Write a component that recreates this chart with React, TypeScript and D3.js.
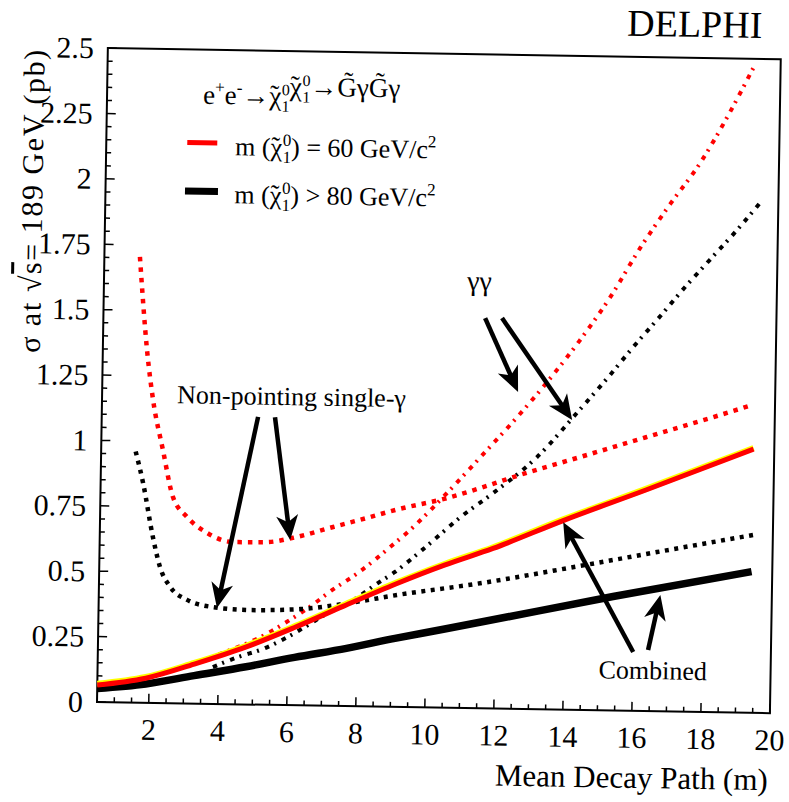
import React from 'react';
import * as d3 from 'd3';

// sigma (pb) vs mean decay path (m)
const combined60: [number, number][] = [
  [0.5, 0.065], [1.9, 0.094], [3.3, 0.151], [4.8, 0.22], [6.2, 0.298], [7.6, 0.382],
  [9.1, 0.47], [10.5, 0.545], [11.9, 0.612], [13.9, 0.722], [16.3, 0.845], [19.4, 1.008],
];
const combined80: [number, number][] = [
  [0.5, 0.052], [1.9, 0.072], [3.3, 0.107], [4.8, 0.144], [6.2, 0.183], [7.7, 0.221],
  [9.1, 0.262], [10.5, 0.3], [11.7, 0.333], [15.4, 0.436], [19.4, 0.54],
];
const single60: [number, number][] = [
  [1.53, 1.704], [1.78, 1.349], [1.98, 1.158], [2.29, 0.967], [2.6, 0.789], [3.02, 0.713],
  [3.61, 0.653], [4.36, 0.62], [5.35, 0.622], [6.1, 0.64], [7.26, 0.684], [8.24, 0.721],
  [9.11, 0.755], [10.55, 0.802], [11.5, 0.842], [12.45, 0.886], [14.38, 0.967], [16.31, 1.048],
  [18.22, 1.128], [19.34, 1.177],
];
const single80: [number, number][] = [
  [1.5, 0.96], [1.73, 0.84], [2.04, 0.634], [2.26, 0.52], [2.57, 0.444], [3.06, 0.396],
  [3.82, 0.37], [4.89, 0.361], [6.34, 0.368], [7.79, 0.395], [9.14, 0.428],
  [11.54, 0.478], [14.44, 0.551], [17.32, 0.626], [19.43, 0.68],
];
const gg60: [number, number][] = [
  [4.0, 0.19], [5.42, 0.274], [5.91, 0.314], [6.77, 0.392], [7.14, 0.431], [8.0, 0.51],
  [8.92, 0.611], [9.58, 0.689], [10.54, 0.821], [11.68, 0.988], [12.5, 1.11],
  [13.5, 1.27], [14.3, 1.41], [15.18, 1.581], [16.02, 1.77], [16.87, 1.94],
  [17.72, 2.099], [18.48, 2.276], [19.21, 2.465],
];
const gg80: [number, number][] = [
  [3.84, 0.141], [4.57, 0.181], [5.26, 0.212], [6.0, 0.261], [6.58, 0.308], [7.15, 0.355],
  [7.73, 0.394], [8.59, 0.473], [9.07, 0.516], [9.85, 0.602], [11.02, 0.738], [11.88, 0.824],
  [13.13, 0.964], [14.36, 1.15], [15.13, 1.27], [15.86, 1.39], [16.63, 1.51],
  [17.35, 1.625], [18.05, 1.73], [18.82, 1.845], [19.47, 1.95],
];

// annotation arrows: [from, to] in data units
const arrows: [[number, number], [number, number]][] = [
  [[5.03, 1.1], [3.93, 0.367]],
  [[5.52, 1.1], [6.02, 0.631]],
  [[11.56, 1.492], [12.55, 1.212]],
  [[12.05, 1.493], [14.13, 1.108]],
  [[16.01, 0.225], [13.92, 0.717]],
  [[16.44, 0.234], [16.77, 0.445]],
];

const xTicks = [2, 4, 6, 8, 10, 12, 14, 16, 18, 20];
const yTicks = [0, 0.25, 0.5, 0.75, 1, 1.25, 1.5, 1.75, 2, 2.25, 2.5];
const yTickLabels = ['0', '0.25', '0.5', '0.75', '1', '1.25', '1.5', '1.75', '2', '2.25', '2.5'];
const legendMass = ['= 60', '> 80'];

const FONT = "'Liberation Serif', 'Times New Roman', serif";
const L = 97, R = 770, T = 48, B = 702;
const TILT = 0.95; // the scan is turned by about one degree

const x = d3.scaleLinear().domain([0.5, 20]).range([L, R]);
const y = d3.scaleLinear().domain([0, 2.5]).range([B, T]);

const line = d3.line<[number, number]>()
  .x(d => x(d[0]))
  .y(d => y(d[1]))
  .curve(d3.curveMonotoneX);

function Arrow({ from, to }: { from: [number, number]; to: [number, number] }) {
  const x0 = x(from[0]), y0 = y(from[1]);
  const x1 = x(to[0]), y1 = y(to[1]);
  const len = Math.hypot(x1 - x0, y1 - y0);
  const ux = (x1 - x0) / len, uy = (y1 - y0) / len;
  const px = -uy, py = ux;
  const hl = 25, hw = 11;
  const bx = x1 - ux * hl, by = y1 - uy * hl;
  const pts = [
    [x1, y1],
    [bx + px * hw, by + py * hw],
    [bx + ux * 7, by + uy * 7],
    [bx - px * hw, by - py * hw],
  ].map(p => p.join(',')).join(' ');
  return (
    <g>
      <line x1={x0} y1={y0} x2={bx + ux * 9} y2={by + uy * 9} stroke="#000" strokeWidth={4.5} />
      <polygon points={pts} fill="#000" />
    </g>
  );
}

// chi with a tilde and stacked sub 1 / sup 0, as tspans
function chiTilde(f: number, s: number, key: string) {
  const cw = 0.5 * f, tw = 0.333 * f;
  return [
    <tspan key={key + 'c'}>{'\u03C7'}</tspan>,
    <tspan key={key + 't'} dx={-(cw / 2 + tw / 2)} dy={-1}>{'\u02DC'}</tspan>,
    <tspan key={key + 's'} dx={cw / 2 - tw / 2 + 0.5} dy={1 + s * 0.42} fontSize={s}>1</tspan>,
    <tspan key={key + 'p'} dx={-s * 0.5} dy={-s * 1.02} fontSize={s}>0</tspan>,
  ];
}

export default function App() {
  const xMinor = d3.range(1, 20.01, 0.5);
  const yMinor = d3.range(0, 2.501, 0.05);
  return (
    <svg width={789} height={802} style={{ position: 'absolute', left: 0, top: 0, background: '#fff' }}
      fontFamily={FONT}>
      <g transform={`rotate(${TILT}, ${L}, ${B})`}>
        {/* frame */}
        <rect x={L} y={T} width={R - L} height={B - T} fill="none" stroke="#000" strokeWidth={2} />
        {yMinor.map((v, i) => {
          const major = i % 5 === 0;
          return <line key={'ym' + i} x1={L} x2={L + (major ? 9 : 5)} y1={y(v)} y2={y(v)} stroke="#000" strokeWidth={1.5} />;
        })}
        {xMinor.map((v, i) => {
          const major = Math.abs(v % 2) < 1e-6;
          return <line key={'xm' + i} x1={x(v)} x2={x(v)} y1={B} y2={B - (major ? 9 : 5)} stroke="#000" strokeWidth={1.5} />;
        })}
        {yTicks.map((v, i) => (
          <text key={'yl' + i} x={83} y={y(v)} dy="0.34em" textAnchor="end" fontSize={30}>{yTickLabels[i]}</text>
        ))}
        {xTicks.map(v => (
          <text key={'xl' + v} x={x(v)} y={739} textAnchor="middle" fontSize={30}>{v}</text>
        ))}

        <text x={769} y={779} textAnchor="end" fontSize={31}>Mean Decay Path (m)</text>
        <text transform="translate(34,202.5) rotate(-90)" textAnchor="middle" fontSize={30}
          textLength={303} lengthAdjust="spacing">
          {'\u03C3 at \u221A'}<tspan style={{ textDecoration: 'overline' }}>s</tspan>{'= 189 GeV (pb)'}
        </text>
        <text x={751} y={27} textAnchor="end" fontSize={38}>DELPHI</text>

        {/* curves */}
        <path d={line(gg60) || ''} fill="none" stroke="#ff0000" strokeWidth={4} strokeDasharray="4.5 5.5 2 6.5" />
        <path d={line(gg80) || ''} fill="none" stroke="#000" strokeWidth={4} strokeDasharray="4.5 5.5 2 6.5" />
        <path d={line(single60) || ''} fill="none" stroke="#ff0000" strokeWidth={4.5} strokeDasharray="4.5 6" />
        <path d={line(single80) || ''} fill="none" stroke="#000" strokeWidth={4.5} strokeDasharray="4 5.5" />
        <path d={line(combined80) || ''} fill="none" stroke="#000" strokeWidth={7.5} />
        <path d={line(combined60) || ''} fill="none" stroke="#ffff00" strokeWidth={6} transform="translate(0,-1.2)" />
        <path d={line(combined60) || ''} fill="none" stroke="#ff0000" strokeWidth={5} />

        {arrows.map((a, i) => <Arrow key={'a' + i} from={a[0]} to={a[1]} />)}

        {/* legend */}
        <text x={193} y={102} fontSize={27}>
          e<tspan dy={-11} fontSize={17}>+</tspan><tspan dy={11}>e</tspan><tspan dy={-11} fontSize={17}>-</tspan>
          <tspan dy={11}>{'\u2192'}</tspan>
          {chiTilde(27, 16, 'a')}
          <tspan dy={9.5}>{''}</tspan>
          {chiTilde(27, 16, 'b')}
          <tspan dy={9.5}>{'\u2192G\u0303\u03B3G\u0303\u03B3'}</tspan>
        </text>
        <line x1={178} x2={208} y1={141} y2={141} stroke="#ff0000" strokeWidth={5} />
        <line x1={176.5} x2={209.5} y1={189.5} y2={189.5} stroke="#000" strokeWidth={7} />
        {legendMass.map((s, i) => (
          <text key={'lg' + i} x={226} y={153 + i * 48} fontSize={26}>
            {'m ('}
            {chiTilde(26, 17, 'l' + i)}
            <tspan dy={10}>{') ' + s + ' GeV/c'}</tspan>
            <tspan dy={-11} fontSize={17}>2</tspan>
          </text>
        ))}

        {/* annotations */}
        <text x={460} y={284} fontSize={28}>{'\u03B3\u03B3'}</text>
        <text x={172} y={402} fontSize={26}>{'Non-pointing single-\u03B3'}</text>
        <text x={598} y={670} fontSize={26}>Combined</text>
      </g>
    </svg>
  );
}
